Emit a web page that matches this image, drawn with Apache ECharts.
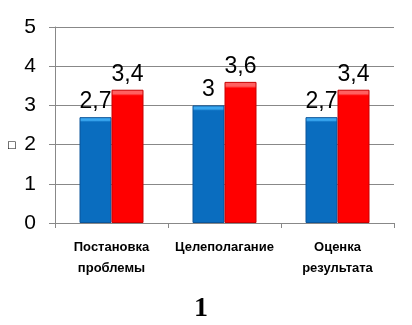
<!DOCTYPE html>
<html><head><meta charset="utf-8">
<script src="https://cdn.jsdelivr.net/npm/echarts@6/dist/echarts.min.js"></script>
<style>html,body{margin:0;padding:0;background:#fff}#c{width:412px;height:325px}</style>
</head><body><div id="c"></div>
<script>
const categories = ['Постановка\nпроблемы', 'Целеполагание', 'Оценка\nрезультата'];
const seriesBlue = [2.7, 3, 2.7];
const seriesRed = [3.4, 3.6, 3.4];
const yTicks = [0, 1, 2, 3, 4, 5];

const chart = echarts.init(document.getElementById('c'), null, {renderer: 'canvas'});
const fmt = p => String(p.value).replace('.', ',');
const grad = (top, main) => new echarts.graphic.LinearGradient(0, 0, 0, 1, [
  {offset: 0, color: top}, {offset: 0.03, color: top}, {offset: 0.045, color: main}, {offset: 1, color: main}
]);
chart.setOption({
  animation: false,
  grid: {left: 55, right: 18, top: 27, bottom: 102},
  xAxis: {
    type: 'category', data: categories,
    axisLine: {lineStyle: {color: '#888', width: 1}},
    axisTick: {show: true, length: 5, lineStyle: {color: '#888'}},
    axisLabel: {interval: 0, color: '#000', fontFamily: 'Liberation Sans, Arial', fontSize: 13, fontWeight: 'bold', lineHeight: 21, margin: 14}
  },
  yAxis: {
    type: 'value', min: yTicks[0], max: yTicks[yTicks.length - 1], interval: 1,
    axisLine: {show: true, lineStyle: {color: '#888'}},
    axisTick: {show: true, length: 6, lineStyle: {color: '#888'}},
    splitLine: {lineStyle: {color: '#888', width: 1}},
    axisLabel: {color: '#000', fontFamily: 'Liberation Sans, Arial', fontSize: 21, margin: 19}
  },
  series: [
    {type: 'bar', data: seriesBlue, barWidth: 32, barGap: '0%',
     itemStyle: {color: grad('#39a7f0', '#0a6dbf'), borderColor: '#0a559a', borderWidth: 1},
     label: {show: true, position: 'top', distance: 4, formatter: fmt, color: '#000', fontFamily: 'Liberation Sans, Arial', fontSize: 23}},
    {type: 'bar', data: seriesRed, barWidth: 32,
     itemStyle: {color: grad('#ff6060', '#ff0000'), borderColor: '#c80000', borderWidth: 1},
     label: {show: true, position: 'top', distance: 4, formatter: fmt, color: '#000', fontFamily: 'Liberation Sans, Arial', fontSize: 23}}
  ],
  graphic: [
    {type: 'text', left: 7, top: 140, style: {text: '□', fontSize: 10, fill: '#000', fontFamily: 'DejaVu Sans'}},
    {type: 'text', left: 194, top: 295, style: {text: '1', fontSize: 28, fontWeight: 'bold', fill: '#000', fontFamily: 'Liberation Serif, Times New Roman'}}
  ]
});
</script></body></html>
